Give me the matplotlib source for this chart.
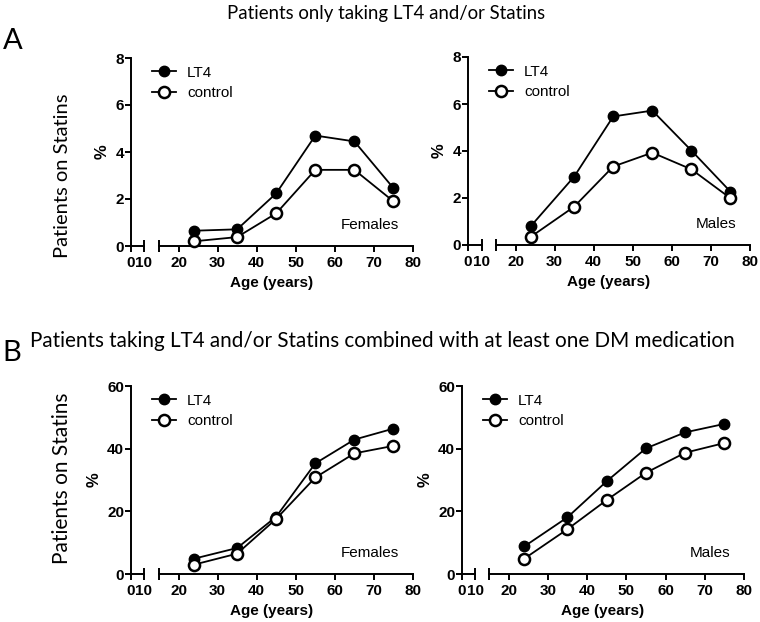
import numpy as np
import matplotlib
matplotlib.use("Agg")
import matplotlib.pyplot as plt

# -----------------------------
# DATA
# -----------------------------
ages = [24, 35, 45, 55, 65, 75]

# A: only LT4 and/or statins
a_fem_lt4 = [0.65, 0.71, 2.24, 4.70, 4.45, 2.46]
a_fem_ctl = [0.20, 0.38, 1.39, 3.24, 3.24, 1.90]
a_mal_lt4 = [0.82, 2.91, 5.47, 5.72, 4.02, 2.27]
a_mal_ctl = [0.36, 1.63, 3.34, 3.93, 3.22, 1.99]

# B: combined with at least one DM medication
b_fem_lt4 = [4.9, 8.3, 18.3, 35.3, 42.9, 46.4]
b_fem_ctl = [3.0, 6.5, 17.6, 30.8, 38.5, 40.9]
b_mal_lt4 = [8.8, 18.1, 29.6, 40.1, 45.2, 47.9]
b_mal_ctl = [4.9, 14.3, 23.6, 32.3, 38.7, 41.8]

x_ticks_main = [20, 30, 40, 50, 60, 70, 80]
y_ticks_a = [0, 2, 4, 6, 8]
y_ticks_b = [0, 20, 40, 60]

title_a = "Patients only taking LT4 and/or Statins"
title_b = "Patients taking LT4 and/or Statins combined with at least one DM medication"

# -----------------------------
# FIGURE
# -----------------------------
W, H = 760, 622
fig = plt.figure(figsize=(W / 100, H / 100), dpi=100)

ARIAL = "Liberation Sans"
TITLE_FONT = "Lato"
LW = 1.4
TICK_FS = 11


def px_axes(x0, x1, ytop, ybot):
    return fig.add_axes([x0 / W, (H - ybot) / H, (x1 - x0) / W, (ybot - ytop) / H])


def panel(sx0, sx1, mx0, mx1, ytop, ybot, lt4, ctl, yticks, sex):
    ymax = yticks[-1]
    # small piece of the broken x axis (0-10), carries the y axis
    sa = px_axes(sx0, sx1, ytop, ybot)
    sa.set_xlim(0, 10)
    sa.set_ylim(0, ymax)
    for s in ["top", "right"]:
        sa.spines[s].set_visible(False)
    sa.spines["left"].set_linewidth(LW)
    sa.spines["bottom"].set_linewidth(LW)
    sa.set_xticks([0])
    sa.set_xticklabels(["0"])
    sa.set_xticks([10], minor=True)
    sa.set_xticklabels(["10"], minor=True)
    sa.set_yticks(yticks)
    sa.tick_params(axis="both", which="major", direction="out", length=4,
                   width=LW, labelsize=TICK_FS, pad=1)
    sa.tick_params(axis="x", which="major", pad=3)
    sa.tick_params(axis="x", which="minor", direction="inout", length=8,
                   width=LW, labelsize=TICK_FS, pad=3)
    for lab in sa.get_xticklabels() + sa.get_xticklabels(minor=True) + sa.get_yticklabels():
        lab.set_fontfamily(ARIAL)
        lab.set_fontweight("bold")
    sa.set_ylabel("%", fontfamily=ARIAL, fontweight="bold", fontsize=12, labelpad=4)

    # main piece (15-80)
    ma = px_axes(mx0, mx1, ytop, ybot)
    ma.set_xlim(15, 80)
    ma.set_ylim(0, ymax)
    for s in ["top", "right", "left"]:
        ma.spines[s].set_visible(False)
    ma.spines["bottom"].set_linewidth(LW)
    ma.set_yticks([])
    ma.set_xticks(x_ticks_main)
    ma.set_xticks([15], minor=True)
    ma.tick_params(axis="x", which="major", direction="out", length=4,
                   width=LW, labelsize=TICK_FS, pad=3)
    ma.tick_params(axis="x", which="minor", direction="inout", length=8, width=LW)
    for lab in ma.get_xticklabels():
        lab.set_fontfamily(ARIAL)
        lab.set_fontweight("bold")
    ma.patch.set_alpha(0)

    ma.plot(ages, lt4, "-o", color="black", lw=1.3, ms=7.5, mfc="black",
            mec="black", clip_on=False, label="LT4", zorder=3)
    ma.plot(ages, ctl, "-o", color="black", lw=1.3, ms=8, mfc="white",
            mec="black", mew=1.8, clip_on=False, label="control", zorder=4)

    h, l = ma.get_legend_handles_labels()
    fig.legend(h, l, loc="upper left",
               bbox_to_anchor=((sx0 + 7) / W, (H - ytop + 6) / H),
               frameon=False, handlelength=1.6, handletextpad=0.7,
               labelspacing=0.4, prop={"family": ARIAL, "size": 11})

    ma.text(0.945, 0.11, sex, transform=ma.transAxes, ha="right", va="center",
            fontfamily=ARIAL, fontsize=11)

    fig.text(((sx0 + mx1) / 2) / W, (H - ybot - 37) / H, "Age (years)",
             ha="center", va="center", fontfamily=ARIAL, fontweight="bold",
             fontsize=11)


panel(131, 144, 159, 413, 58, 246, a_fem_lt4, a_fem_ctl, y_ticks_a, "Females")
panel(468, 482, 496, 750, 57, 245, a_mal_lt4, a_mal_ctl, y_ticks_a, "Males")
panel(131, 144, 159, 413, 386, 574, b_fem_lt4, b_fem_ctl, y_ticks_b, "Females")
panel(462, 475, 489, 744, 386, 574, b_mal_lt4, b_mal_ctl, y_ticks_b, "Males")

# -----------------------------
# TITLES AND LABELS
# -----------------------------
fig.text(386 / W, (H - 14) / H, title_a, ha="center", va="center",
         fontfamily=TITLE_FONT, fontsize=13.4)
fig.text(30 / W, (H - 341) / H, title_b, ha="left", va="center",
         fontfamily=TITLE_FONT, fontsize=14.9)
fig.text(13 / W, (H - 41) / H, "A", ha="center", va="center",
         fontfamily=TITLE_FONT, fontsize=21)
fig.text(12 / W, (H - 353) / H, "B", ha="center", va="center",
         fontfamily=TITLE_FONT, fontsize=21)
fig.text(62 / W, (H - 176) / H, "Patients on Statins", ha="center",
         va="center", rotation=90, fontfamily=TITLE_FONT, fontsize=14.5)
fig.text(62 / W, (H - 478) / H, "Patients on Statins", ha="center",
         va="center", rotation=90, fontfamily=TITLE_FONT, fontsize=15)

fig.savefig("out.png", dpi=100)
